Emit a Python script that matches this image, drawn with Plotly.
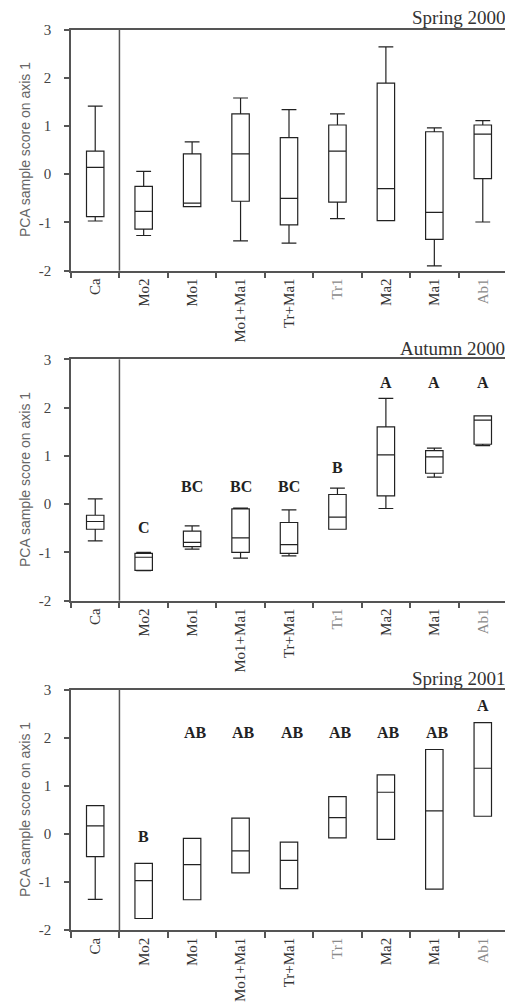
import plotly.graph_objects as go

categories = ["Ca", "Mo2", "Mo1", "Mo1+Ma1", "Tr+Ma1", "Tr1", "Ma2", "Ma1", "Ab1"]
grey_labels = ["Tr1", "Ab1"]
y_ticks = [-2, -1, 0, 1, 2, 3]
y_tick_text = ["-2", "-1", "0", "1", "2", "3"]

# Spring 2000
s00_lower = [-0.97, -1.27, -0.67, -1.38, -1.43, -0.92, -0.96, -1.90, -0.99]
s00_q1 = [-0.88, -1.14, -0.67, -0.56, -1.05, -0.58, -0.96, -1.35, -0.09]
s00_median = [0.14, -0.77, -0.60, 0.42, -0.50, 0.48, -0.30, -0.79, 0.83]
s00_q3 = [0.48, -0.25, 0.42, 1.25, 0.76, 1.02, 1.89, 0.88, 1.02]
s00_upper = [1.41, 0.06, 0.67, 1.58, 1.34, 1.25, 2.64, 0.96, 1.11]

# Autumn 2000
a00_lower = [-0.76, -1.38, -0.93, -1.12, -1.07, -0.52, -0.09, 0.56, 1.21]
a00_q1 = [-0.52, -1.37, -0.88, -1.00, -1.02, -0.52, 0.17, 0.64, 1.24]
a00_median = [-0.36, -1.10, -0.79, -0.70, -0.84, -0.27, 1.02, 0.98, 1.74]
a00_q3 = [-0.23, -1.02, -0.56, -0.10, -0.38, 0.20, 1.60, 1.11, 1.83]
a00_upper = [0.11, -1.00, -0.45, -0.08, -0.12, 0.33, 2.19, 1.16, 1.83]
a00_letters = ["", "C", "BC", "BC", "BC", "B", "A", "A", "A"]
a00_letter_y = [None, -0.48, 0.36, 0.36, 0.36, 0.76, 2.52, 2.52, 2.52]

# Spring 2001
s01_lower = [-1.36, -1.76, -1.37, -0.81, -1.14, -0.08, -0.11, -1.15, 0.37]
s01_q1 = [-0.47, -1.76, -1.37, -0.81, -1.14, -0.08, -0.11, -1.15, 0.37]
s01_median = [0.17, -0.97, -0.64, -0.35, -0.55, 0.34, 0.87, 0.48, 1.37]
s01_q3 = [0.59, -0.61, -0.09, 0.33, -0.17, 0.78, 1.23, 1.76, 2.32]
s01_upper = [0.59, -0.61, -0.09, 0.33, -0.17, 0.78, 1.23, 1.76, 2.32]
s01_letters = ["", "B", "AB", "AB", "AB", "AB", "AB", "AB", "A"]
s01_letter_y = [None, -0.06, 2.12, 2.12, 2.12, 2.12, 2.12, 2.12, 2.67]

titles = ["Spring 2000", "Autumn 2000", "Spring 2001"]
y_title = "PCA sample score on axis 1"

# page body has an 8px margin; the figure is sized to fit the window
OFF = 8
W, H = 513 - OFF, 1004 - OFF
ML, MR = 71 - OFF, 6
panels_px = [(29.5 - OFF, 270.7 - OFF), (359.3 - OFF, 600.7 - OFF), (690.0 - OFF, 930.0 - OFF)]
title_px = [17.5 - OFF, 348.3 - OFF, 678.3 - OFF]
ytitle_px = 25 - OFF

labels = [
    "<span style='color:#8a8a8a'>%s</span>" % c if c in grey_labels else c
    for c in categories
]

panels = [
    (s00_lower, s00_q1, s00_median, s00_q3, s00_upper, None, None),
    (a00_lower, a00_q1, a00_median, a00_q3, a00_upper, a00_letters, a00_letter_y),
    (s01_lower, s01_q1, s01_median, s01_q3, s01_upper, s01_letters, s01_letter_y),
]

fig = go.Figure()
axis_color = "#555555"
serif = "Liberation Serif"
annotations = []
shapes = []

for i, (lo, q1, med, q3, up, letters, ly) in enumerate(panels):
    n = "" if i == 0 else str(i + 1)
    xa, ya = "x" + n, "y" + n
    fig.add_trace(go.Box(
        x=labels, q1=q1, median=med, q3=q3, lowerfence=lo, upperfence=up,
        orientation="v", xaxis=xa, yaxis=ya,
        width=0.36, whiskerwidth=0.85,
        fillcolor="white", line=dict(color="#222222", width=1.2),
        boxpoints=False, showlegend=False, hoverinfo="skip",
    ))
    top, bot = panels_px[i]
    dom = [1 - bot / H, 1 - top / H]
    common_x = dict(
        type="category", categoryorder="array", categoryarray=labels,
        range=[-0.5, len(categories) - 0.5], domain=[0, 1],
        showline=True, linecolor=axis_color, linewidth=1.5, mirror=True,
        ticks="outside", tickson="boundaries", ticklen=6, tickwidth=1.5,
        tickcolor=axis_color, tickangle=-90, showgrid=False, zeroline=False,
        tickfont=dict(family=serif, size=15, color="#333333"),
        anchor=ya, automargin=False, fixedrange=True,
    )
    common_y = dict(
        range=[-2, 3], tickmode="array", tickvals=y_ticks, ticktext=y_tick_text,
        domain=dom, showline=True, linecolor=axis_color, linewidth=1.5,
        mirror=True, ticks="outside", ticklen=5, tickwidth=1.5,
        tickcolor=axis_color, showgrid=False, zeroline=False,
        tickfont=dict(family=serif, size=15, color="#444444"),
        ticklabelstandoff=10,
        anchor=xa, automargin=False, fixedrange=True,
    )
    fig.update_layout(**{("xaxis" + n): common_x, ("yaxis" + n): common_y})

    shapes.append(dict(type="line", xref=xa, yref=ya + " domain",
                       x0=0.5, x1=0.5, y0=0, y1=1,
                       line=dict(color=axis_color, width=1.5)))

    annotations.append(dict(
        text=titles[i], xref="paper", yref="paper", x=1, y=1 - title_px[i] / H,
        xanchor="right", yanchor="middle", showarrow=False, xshift=-1,
        borderpad=0,
        font=dict(family=serif, size=19, color="#333333"),
    ))
    annotations.append(dict(
        text=y_title, xref="paper", yref="paper",
        x=(ytitle_px - ML) / (W - ML - MR), y=(dom[0] + dom[1]) / 2,
        textangle=-90, xanchor="center", yanchor="middle", showarrow=False,
        font=dict(family="Liberation Sans", size=14, color="#666666"),
    ))
    if letters:
        for lab, t, yv in zip(labels, letters, ly):
            if t:
                annotations.append(dict(
                    text="<b>%s</b>" % t, xref=xa, yref=ya, x=lab, y=yv,
                    showarrow=False, xanchor="center", yanchor="middle",
                    xshift=3 if t == "AB" else 0,
                    font=dict(family=serif, size=16, color="#222222"),
                ))

fig.update_layout(
    width=W, height=H,
    margin=dict(l=ML, r=MR, t=0, b=0),
    paper_bgcolor="white", plot_bgcolor="white",
    annotations=annotations, shapes=shapes, showlegend=False,
)

fig.write_html("out.html")
